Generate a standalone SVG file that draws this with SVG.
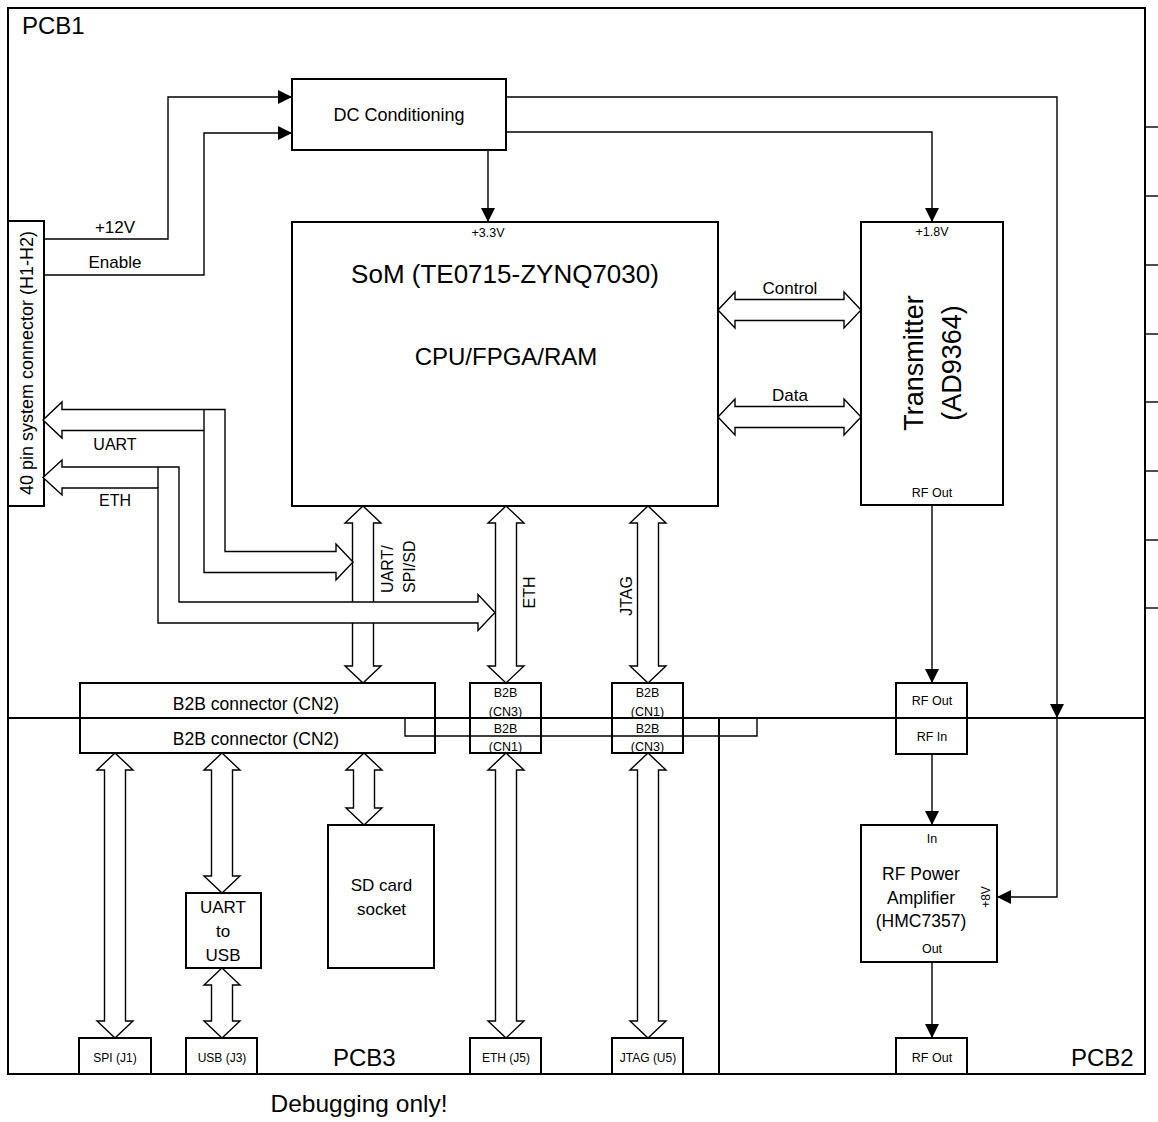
<svg xmlns="http://www.w3.org/2000/svg" width="1158" height="1122" viewBox="0 0 1158 1122">
<style>
  text { font-family: "Liberation Sans", Arial, sans-serif; fill: #000; }
  .frame { fill: none; stroke: #000; stroke-width: 2; }
  .box { fill: #fff; stroke: #000; stroke-width: 2; }
  .obox { fill: none; stroke: #000; stroke-width: 2; }
  .ln { fill: none; stroke: #000; stroke-width: 1.4; }
  .wa { fill: #fff; stroke: #000; stroke-width: 1.4; stroke-linejoin: miter; }
  .c { text-anchor: middle; }
  .s { font-size: 12.5px; }
  .m { font-size: 17px; }
  .l { font-size: 24px; }
</style>
<defs>
  <marker id="ah" markerUnits="userSpaceOnUse" markerWidth="14" markerHeight="14" refX="14" refY="7" orient="auto">
    <path d="M0,0 L14,7 L0,14 z" fill="#000"/>
  </marker>
</defs>

<g id="frames">
  <rect class="frame" x="8" y="8" width="1137" height="710"/>
  <rect class="frame" x="8" y="718" width="711" height="356"/>
  <rect class="frame" x="719" y="718" width="426" height="356"/>
  <g class="ln">
    <line x1="1145" y1="127" x2="1158" y2="127"/>
    <line x1="1145" y1="196" x2="1158" y2="196"/>
    <line x1="1145" y1="265" x2="1158" y2="265"/>
    <line x1="1145" y1="334" x2="1158" y2="334"/>
    <line x1="1145" y1="402" x2="1158" y2="402"/>
    <line x1="1145" y1="471" x2="1158" y2="471"/>
    <line x1="1145" y1="540" x2="1158" y2="540"/>
    <line x1="1145" y1="608" x2="1158" y2="608"/>
  </g>
  <text class="l" x="22" y="34">PCB1</text>
  <text class="l" x="333" y="1066">PCB3</text>
  <text class="l" x="1071" y="1066">PCB2</text>
  <text class="c" x="359" y="1112" style="font-size:24.5px">Debugging only!</text>
</g>

<g id="connector40">
  <rect class="box" x="8" y="221" width="36" height="285"/>
  <text class="c" transform="translate(33,363) rotate(-90)" style="font-size:18px">40 pin system connector (H1-H2)</text>
</g>

<g id="dc">
  <rect class="box" x="292" y="79" width="214" height="71"/>
  <text class="c" x="399" y="121" style="font-size:18px">DC Conditioning</text>
</g>

<g id="som">
  <rect class="box" x="292" y="222" width="426" height="284"/>
  <text class="c s" x="488" y="237">+3.3V</text>
  <text class="c" x="505" y="283" style="font-size:26px">SoM (TE0715-ZYNQ7030)</text>
  <text class="c" x="506" y="365" style="font-size:24px">CPU/FPGA/RAM</text>
</g>

<g id="transmitter">
  <rect class="box" x="861" y="222" width="142" height="283"/>
  <text class="c s" x="932" y="236">+1.8V</text>
  <text class="c s" x="932" y="497">RF Out</text>
  <text class="c" transform="translate(900,363) rotate(-90)" style="font-size:27px"><tspan x="0" y="23">Transmitter</tspan><tspan x="0" y="61">(AD9364)</tspan></text>
</g>

<g id="b2b-cn2">
  <rect class="obox" x="80" y="683" width="355" height="35"/>
  <rect class="obox" x="80" y="718" width="355" height="35"/>
  <text class="c" x="256" y="710" style="font-size:17.5px">B2B connector (CN2)</text>
  <text class="c" x="256" y="745" style="font-size:17.5px">B2B connector (CN2)</text>
</g>

<g id="b2b-cn3-cn1">
  <rect class="obox" x="470" y="683" width="71" height="35"/>
  <rect class="obox" x="470" y="718" width="71" height="35"/>
  <text class="c s" x="505.5" y="697">B2B</text>
  <text class="c s" x="505.5" y="716">(CN3)</text>
  <text class="c s" x="505.5" y="733">B2B</text>
  <text class="c s" x="505.5" y="751">(CN1)</text>
</g>

<g id="b2b-cn1-cn3">
  <rect class="obox" x="612" y="683" width="71" height="35"/>
  <rect class="obox" x="612" y="718" width="71" height="35"/>
  <text class="c s" x="647.5" y="697">B2B</text>
  <text class="c s" x="647.5" y="716">(CN1)</text>
  <text class="c s" x="647.5" y="733">B2B</text>
  <text class="c s" x="647.5" y="751">(CN3)</text>
</g>

<g id="rf-conn">
  <rect class="obox" x="896" y="683" width="71" height="35"/>
  <rect class="obox" x="896" y="718" width="71" height="36"/>
  <text class="c s" x="932" y="705">RF Out</text>
  <text class="c s" x="932" y="741">RF In</text>
</g>

<g id="pa">
  <rect class="box" x="861" y="825" width="136" height="137"/>
  <text class="c s" x="932" y="843">In</text>
  <text class="c" x="921" y="880" style="font-size:17.5px">RF Power</text>
  <text class="c" x="921" y="904" style="font-size:17.5px">Amplifier</text>
  <text class="c" x="921" y="927" style="font-size:17.5px">(HMC7357)</text>
  <text class="c s" x="932" y="953">Out</text>
  <text class="c" transform="translate(990,897) rotate(-90)" style="font-size:12px">+8V</text>
</g>

<g id="rf-out">
  <rect class="box" x="896" y="1038" width="71" height="36"/>
  <text class="c s" x="932" y="1062">RF Out</text>
</g>

<g id="uart-usb">
  <rect class="box" x="186" y="893" width="75" height="75"/>
  <text class="c m" x="223" y="913">UART</text>
  <text class="c m" x="223" y="937">to</text>
  <text class="c m" x="223" y="961">USB</text>
</g>

<g id="sd">
  <rect class="box" x="328" y="825" width="106" height="143"/>
  <text class="c m" x="381.5" y="891">SD card</text>
  <text class="c m" x="381.5" y="915">socket</text>
</g>

<g id="spi-j1">
  <rect class="box" x="79" y="1038" width="72" height="36"/>
  <text class="c" x="115" y="1062" style="font-size:12px">SPI (J1)</text>
</g>
<g id="usb-j3">
  <rect class="box" x="186" y="1038" width="71" height="36"/>
  <text class="c" x="222" y="1062" style="font-size:12px">USB (J3)</text>
</g>
<g id="eth-j5">
  <rect class="box" x="470" y="1038" width="71" height="36"/>
  <text class="c" x="506" y="1062" style="font-size:12px">ETH (J5)</text>
</g>
<g id="jtag-u5">
  <rect class="box" x="612" y="1038" width="71" height="36"/>
  <text class="c" x="648" y="1062" style="font-size:12px">JTAG (U5)</text>
</g>

<g id="connectors">
  <polyline class="ln" points="44,239 168,239 168,97 292,97" marker-end="url(#ah)"/>
  <polyline class="ln" points="44,275 204,275 204,133 292,133" marker-end="url(#ah)"/>
  <text class="c m" x="115" y="233">+12V</text>
  <text class="c m" x="115" y="268">Enable</text>
  <line class="ln" x1="488" y1="150" x2="488" y2="222" marker-end="url(#ah)"/>
  <polyline class="ln" points="506,132 932,132 932,222" marker-end="url(#ah)"/>
  <polyline class="ln" points="506,97 1057,97 1057,718" marker-end="url(#ah)"/>
  <polyline class="ln" points="1057,718 1057,897 997,897" marker-end="url(#ah)"/>
  <line class="ln" x1="932" y1="505" x2="932" y2="683" marker-end="url(#ah)"/>
  <line class="ln" x1="932" y1="754" x2="932" y2="825" marker-end="url(#ah)"/>
  <line class="ln" x1="932" y1="962" x2="932" y2="1038" marker-end="url(#ah)"/>
  <polyline class="ln" points="405,718 405,736 757,736 757,718"/>

  <polygon class="wa" points="718,310 735,292 735,299.5 844,299.5 844,292 861,310 844,328 844,320.5 735,320.5 735,328"/>
  <polygon class="wa" points="718,417 735,399 735,406.5 844,406.5 844,399 861,417 844,435 844,427.5 735,427.5 735,435"/>
  <text class="c m" x="790" y="294">Control</text>
  <text class="c m" x="790" y="401">Data</text>

  <polygon class="wa" points="363,506 381,523 373.5,523 373.5,666 381,666 363,683 345,666 352.5,666 352.5,523 345,523"/>
  <polygon class="wa" points="506,506 524,523 516.5,523 516.5,666 524,666 506,683 488,666 495.5,666 495.5,523 488,523"/>
  <polygon class="wa" points="648,506 666,523 658.5,523 658.5,666 666,666 648,683 630,666 637.5,666 637.5,523 630,523"/>

  <polygon class="wa" points="43,420 62,402 62,409.5 225,409.5 225,551.5 336,551.5 336,544 353,562 336,580 336,572.5 204,572.5 204,430.5 62,430.5 62,438"/>
  <line class="ln" x1="204" y1="409.5" x2="204" y2="430.5"/>
  <polygon class="wa" points="43,477.5 62,460 62,467 179,467 179,602 478,602 478,594.5 495,612.5 478,630.5 478,623 158,623 158,488 62,488 62,495"/>
  <line class="ln" x1="158" y1="467" x2="158" y2="488"/>
  <text class="c" x="115" y="450" style="font-size:16px">UART</text>
  <text class="c" x="115" y="506" style="font-size:16px">ETH</text>

  <text transform="translate(393,593) rotate(-90)" style="font-size:16px">UART/</text>
  <text transform="translate(415,593) rotate(-90)" style="font-size:16px">SPI/SD</text>
  <text class="c" transform="translate(535,592.5) rotate(-90)" style="font-size:16px">ETH</text>
  <text class="c" transform="translate(632,596) rotate(-90)" style="font-size:16px">JTAG</text>

  <polygon class="wa" points="115,753 133,770 125.5,770 125.5,1021 133,1021 115,1038 97,1021 104.5,1021 104.5,770 97,770"/>
  <polygon class="wa" points="222,753 240,770 232.5,770 232.5,876 240,876 222,893 204,876 211.5,876 211.5,770 204,770"/>
  <polygon class="wa" points="222,968 240,985 232.5,985 232.5,1021 240,1021 222,1038 204,1021 211.5,1021 211.5,985 204,985"/>
  <polygon class="wa" points="364,753 382,770 374.5,770 374.5,808 382,808 364,825 346,808 353.5,808 353.5,770 346,770"/>
  <polygon class="wa" points="506,753 524,770 516.5,770 516.5,1021 524,1021 506,1038 488,1021 495.5,1021 495.5,770 488,770"/>
  <polygon class="wa" points="648,753 666,770 658.5,770 658.5,1021 666,1021 648,1038 630,1021 637.5,1021 637.5,770 630,770"/>
</g>
</svg>
